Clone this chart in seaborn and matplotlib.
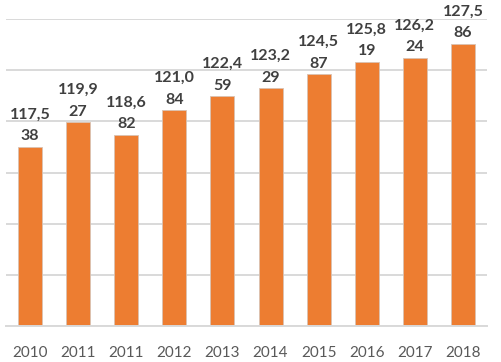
import matplotlib
matplotlib.use('Agg')
import matplotlib.pyplot as plt
import pandas as pd
import seaborn as sns

years = ['2010', '2011', '2011', '2012', '2013', '2014', '2015', '2016', '2017', '2018']
values = [117538, 119927, 118682, 121084, 122459, 123229, 124587, 125819, 126224, 127586]

df = pd.DataFrame({'pos': range(len(years)), 'value': values})

sns.set_style('white')
plt.rcParams['font.family'] = ['Lato', 'DejaVu Sans']

fig = plt.figure(figsize=(5.02, 3.62), dpi=100)
ax = fig.add_axes([0.012, 0.099, 0.958, 0.8485])

sns.barplot(data=df, x='pos', y='value', color='#ED7D31', saturation=1,
            width=0.5, edgecolor='#d9c2b3', linewidth=0.6, ax=ax, zorder=2)

ax.set_ylim(100000, 130000)
ax.set_xlim(-0.5, len(years) - 0.5)
ax.set_yticks(range(100000, 130001, 5000))
ax.yaxis.grid(True, color='#d9d9d9', linewidth=1.4, zorder=0)
ax.set_axisbelow(True)
ax.tick_params(axis='y', left=False, labelleft=False)
ax.tick_params(axis='x', bottom=False, pad=11, labelsize=11, labelcolor='#595959')
ax.set_xticks(range(len(years)))
ax.set_xticklabels(years)
ax.set_xlabel('')
ax.set_ylabel('')
for s in ['top', 'right', 'left']:
    ax.spines[s].set_visible(False)
ax.spines['bottom'].set_color('#d9d9d9')
ax.spines['bottom'].set_linewidth(1.4)

for i, v in enumerate(values):
    s = f'{v:,}'
    ax.annotate(s[:5] + '\n' + s[5:], (i, v), xytext=(0, 2.5), textcoords='offset points',
                ha='center', va='bottom', fontsize=11.5, fontweight='bold',
                color='#404040', linespacing=1.7, clip_on=False)

fig.savefig('out.png', dpi=100)
